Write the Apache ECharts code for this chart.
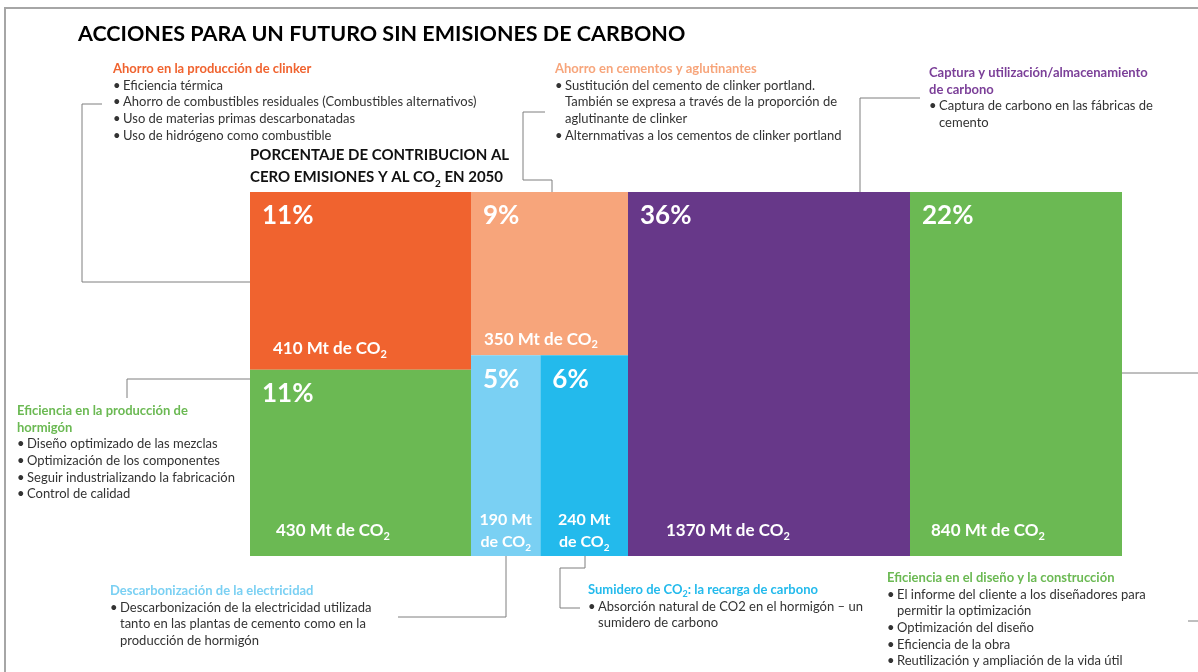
<!DOCTYPE html>
<html>
<head>
<meta charset="utf-8">
<script src="https://cdn.jsdelivr.net/npm/echarts@6/dist/echarts.min.js"></script>
<style>
  html, body { margin: 0; padding: 0; background: #fff; }
  #chart { width: 1198px; height: 672px; }
</style>
</head>
<body>
<div id="chart"></div>
<script>
  // datos: contribución de cada acción al cero emisiones en 2050
  const actions = [
    'Ahorro en la producción de clinker',
    'Eficiencia en la producción de hormigón',
    'Ahorro en cementos y aglutinantes',
    'Descarbonización de la electricidad',
    'Sumidero de CO2',
    'Captura y utilización/almacenamiento de carbono',
    'Eficiencia en el diseño y la construcción'
  ]
  const percent = [11, 11, 9, 5, 6, 36, 22]
  const mtCO2 = [410, 430, 350, 190, 240, 1370, 840]

  // disposición del mosaico (columna / fila dentro de la columna)
  const column = [0, 0, 1, 1, 1, 2, 3]
  const row = [0, 1, 0, 1, 1, 0, 0]
  const colSpan = [221, 157, 282, 212]
  const colors = ['#F0632F', '#6BB953', '#F7A57B', '#7AD0F3', '#23BAEC', '#673889', '#6BB953']
  const mtInset = [23, 26, 13, 0, 0, 38, 21]
  const mtLift = [15, 19, 10, 0, 0, 19, 19]

  const FONT = 'Lato, "Open Sans", sans-serif'
  const TEXT = '#333333'

  // construir rectángulos a partir de los valores
  const cells = []
  let x0 = 0
  colSpan.forEach((span, c) => {
    const idx = actions.map((a, i) => i).filter(i => column[i] === c)
    const rows = [...new Set(idx.map(i => row[i]))]
    const colTotal = idx.reduce((s, i) => s + mtCO2[i], 0)
    let y0 = 0
    rows.forEach(r => {
      const ri = idx.filter(i => row[i] === r)
      const rowTotal = ri.reduce((s, i) => s + mtCO2[i], 0)
      const y1 = y0 + rowTotal / colTotal
      let xx = x0
      ri.forEach(i => {
        const xx1 = xx + span * mtCO2[i] / rowTotal
        cells[i] = [xx, xx1, y0, y1, mtCO2[i], percent[i]]
        xx = xx1
      })
      y0 = y1
    })
    x0 += span
  })
  const totalSpan = x0

  const chart = echarts.init(document.getElementById('chart'))

  const sub = (size) => ({ fontSize: size, fontWeight: 'bold', fontFamily: FONT, fill: '#fff', verticalAlign: 'bottom', lineHeight: size })

  function renderItem (params, api) {
    const i = params.dataIndex
    const p0 = api.coord([api.value(0), api.value(2)])
    const p1 = api.coord([api.value(1), api.value(3)])
    const x = p0[0]
    const y = p0[1]
    const w = p1[0] - p0[0]
    const h = p1[1] - p0[1]
    const children = [
      { type: 'rect', shape: { x: x, y: y, width: w, height: h }, style: { fill: colors[i] } },
      {
        type: 'text',
        style: {
          x: x + 12, y: y + 11, text: api.value(5) + '%', fill: '#fff',
          fontSize: 26, fontWeight: 'bold', fontFamily: FONT, align: 'left', verticalAlign: 'top'
        }
      }
    ]
    const mt = api.value(4)
    if (w > 100) {
      children.push({
        type: 'text',
        style: {
          x: x + mtInset[i], y: y + h - mtLift[i] + 5,
          text: '{m|' + mt + ' Mt de CO}{s|2}',
          align: 'left', verticalAlign: 'bottom',
          rich: {
            m: { fontSize: 17, fontWeight: 'bold', fontFamily: FONT, fill: '#fff', lineHeight: 22 },
            s: sub(11)
          }
        }
      })
    } else {
      children.push({
        type: 'text',
        style: {
          x: x + w / 2, y: y + h - 3,
          text: '{m|' + mt + ' Mt}\n{m|de CO}{s|2}',
          align: 'center', verticalAlign: 'bottom',
          rich: {
            m: { fontSize: 16, fontWeight: 'bold', fontFamily: FONT, fill: '#fff', lineHeight: 22 },
            s: sub(10)
          }
        }
      })
    }
    return { type: 'group', children: children }
  }

  // notas con viñetas alrededor del mosaico
  const LH = 16.6
  function note (x, yCenter, color, heading, bullets) {
    const els = []
    const head = heading.join('\n')
    els.push({
      type: 'text', left: x, top: yCenter - LH / 2,
      style: { text: head, fill: color, fontSize: 13, fontWeight: 'bold', fontFamily: FONT, lineHeight: LH, rich: { s: { fontSize: 9, fontWeight: 'bold', fontFamily: FONT, fill: color, verticalAlign: 'bottom', lineHeight: 13 } } }
    })
    const top = yCenter - LH / 2 + heading.length * LH
    const dots = []
    const lines = []
    bullets.forEach(b => {
      b.forEach((l, k) => {
        dots.push(k === 0 ? '•' : ' ')
        lines.push(l)
      })
    })
    els.push({ type: 'text', left: x, top: top, style: { text: dots.join('\n'), fill: TEXT, fontSize: 13, fontFamily: FONT, lineHeight: LH } })
    els.push({ type: 'text', left: x + 10, top: top, style: { text: lines.join('\n'), fill: TEXT, fontSize: 13, fontFamily: FONT, lineHeight: LH } })
    return els
  }
  function link (pts) {
    return { type: 'polyline', shape: { points: pts }, style: { stroke: '#7f7f7f', lineWidth: 1, fill: null } }
  }

  const graphics = [].concat(
    [{ type: 'polyline', shape: { points: [[5, 672], [5, 8], [1198, 8]] }, style: { stroke: '#a6a6a6', lineWidth: 2, fill: null } }],
    note(113, 69, '#F0632F', ['Ahorro en la producción de clinker'], [
      ['Eficiencia térmica'],
      ['Ahorro de combustibles residuales (Combustibles alternativos)'],
      ['Uso de materias primas descarbonatadas'],
      ['Uso de hidrógeno como combustible']
    ]),
    note(555, 69, '#F7A57B', ['Ahorro en cementos y aglutinantes'], [
      ['Sustitución del cemento de clinker portland.', 'También se expresa a través de la proporción de', 'aglutinante de clinker'],
      ['Alternmativas a los cementos de clinker portland']
    ]),
    note(929, 73, '#7B3F98', ['Captura y utilización/almacenamiento', 'de carbono'], [
      ['Captura de carbono en las fábricas de', 'cemento']
    ]),
    note(17, 411, '#6BB953', ['Eficiencia en la producción de', 'hormigón'], [
      ['Diseño optimizado de las mezclas'],
      ['Optimización de los componentes'],
      ['Seguir industrializando la fabricación'],
      ['Control de calidad']
    ]),
    note(110, 591, '#7AD0F3', ['Descarbonización de la electricidad'], [
      ['Descarbonización de la electricidad utilizada', 'tanto en las plantas de cemento como en la', 'producción de hormigón']
    ]),
    note(588, 590, '#23BAEC', ['Sumidero de CO{s|2}: la recarga de carbono'], [
      ['Absorción natural de CO2 en el hormigón – un', 'sumidero de carbono']
    ]),
    note(887, 578, '#6BB953', ['Eficiencia en el diseño y la construcción'], [
      ['El informe del cliente a los diseñadores para', 'permitir la optimización'],
      ['Optimización del diseño'],
      ['Eficiencia de la obra'],
      ['Reutilización y ampliación de la vida útil']
    ]),
    [
      link([[102, 104], [82, 104], [82, 282], [250, 282]]),
      link([[545, 112], [523, 112], [523, 180], [552, 180], [552, 192]]),
      link([[920, 98], [860, 98], [860, 192]]),
      link([[127, 398], [127, 379], [250, 379]]),
      link([[506, 556], [506, 617], [398, 617]]),
      link([[585, 556], [585, 568], [560, 568], [560, 608], [580, 608]]),
      link([[1122, 373], [1198, 373]]),
      link([[1188, 621], [1198, 621]])
    ],
    [
      {
        type: 'text', left: 250, top: 148,
        style: {
          text: '{b|PORCENTAJE DE CONTRIBUCION AL}\n{b|CERO EMISIONES Y AL CO}{s|2}{b| EN 2050}',
          rich: {
            b: { fontSize: 15, fontWeight: 'bold', fontFamily: FONT, fill: '#111', lineHeight: 22 },
            s: { fontSize: 10, fontWeight: 'bold', fontFamily: FONT, fill: '#111', lineHeight: 14, verticalAlign: 'bottom' }
          }
        }
      }
    ]
  )

  chart.setOption({
    animation: false,
    title: {
      text: 'ACCIONES PARA UN FUTURO SIN EMISIONES DE CARBONO',
      left: 78,
      top: 23,
      padding: 0,
      textStyle: { fontSize: 21.5, fontWeight: 'bold', fontFamily: FONT, color: '#000' }
    },
    grid: { left: 250, top: 192, width: 872, height: 364 },
    xAxis: { type: 'value', min: 0, max: totalSpan, show: false },
    yAxis: { type: 'value', min: 0, max: 1, inverse: true, show: false },
    graphic: graphics,
    series: [
      {
        type: 'custom',
        name: 'Contribución',
        renderItem: renderItem,
        encode: { x: [0, 1], y: [2, 3] },
        data: cells.map((c, i) => ({ name: actions[i], value: c }))
      }
    ]
  })
</script>
</body>
</html>
